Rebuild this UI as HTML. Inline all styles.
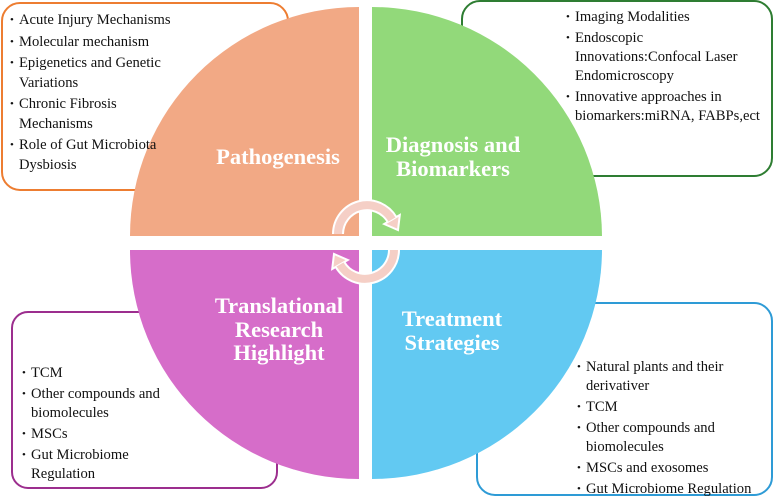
<!DOCTYPE html>
<html><head><meta charset="utf-8"><style>
body{margin:0;width:774px;height:498px;background:#fff;overflow:hidden;position:relative;font-family:"Liberation Serif",serif;}
svg{position:absolute;left:0;top:0}
.t{position:absolute;font-size:14.6px;line-height:19px;color:#111;}
.t div{position:relative;padding-left:9px;}
.t div:before{content:"•";position:absolute;left:0;font-size:11px}
.ttl{position:absolute;color:#fff;font-weight:bold;font-size:22.5px;line-height:23.5px;text-align:center;}
</style></head><body>
<svg width="774" height="498">
<rect x="2" y="3" width="286" height="187" rx="18" fill="#fff" stroke="#ED7D31" stroke-width="2"/>
<rect x="462" y="1" width="310" height="175" rx="18" fill="#fff" stroke="#2E7D32" stroke-width="2"/>
<rect x="12" y="312" width="265" height="176" rx="16" fill="#fff" stroke="#9C2E8E" stroke-width="2"/>
<rect x="477" y="303" width="295" height="192" rx="18" fill="#fff" stroke="#2E9BD6" stroke-width="2"/>
<path d="M359,236 L130,236 A229,229 0 0 1 359,7 Z" fill="#F2A985"/>
<path d="M372,236 L372,7 A230,230 0 0 1 602,236 Z" fill="#92D97A"/>
<path d="M359,250 L359,479 A229,229 0 0 1 130,250 Z" fill="#D66DC9"/>
<path d="M372,250 L602,250 A230,230 0 0 1 372,479 Z" fill="#62C9F2"/>
<g fill="none" stroke-linecap="butt">
<path d="M338,234 A29,29 0 0 1 392,219.5" stroke="#fff" stroke-width="12"/>
<path d="M394,250 A29,29 0 0 1 340,264.5" stroke="#fff" stroke-width="12"/>
</g>
<polygon points="399.8,215 384.2,224 398,230" fill="#F5CFC6" stroke="#fff" stroke-width="2"/>
<polygon points="332.2,269 347.8,260 334,254" fill="#F5CFC6" stroke="#fff" stroke-width="2"/>
<g fill="none">
<path d="M338,234 A29,29 0 0 1 392,219.5" stroke="#F5CFC6" stroke-width="8"/>
<path d="M394,250 A29,29 0 0 1 340,264.5" stroke="#F5CFC6" stroke-width="8"/>
</g>
</svg>
<div class="t" style="left:10px;top:11px;line-height:19.5px">
<div>Acute Injury Mechanisms</div>
<div style="margin-top:2px">Molecular mechanism</div>
<div style="margin-top:2px">Epigenetics and Genetic<br>Variations</div>
<div style="margin-top:2px">Chronic Fibrosis<br>Mechanisms</div>
<div style="margin-top:2px">Role of Gut Microbiota<br>Dysbiosis</div>
</div>
<div class="t" style="left:566px;top:8px">
<div>Imaging Modalities</div>
<div style="margin-top:2px">Endoscopic<br>Innovations:Confocal Laser<br>Endomicroscopy</div>
<div style="margin-top:2px">Innovative approaches in<br>biomarkers:miRNA, FABPs,ect</div>
</div>
<div class="t" style="left:22px;top:364px">
<div>TCM</div>
<div style="margin-top:2px">Other compounds and<br>biomolecules</div>
<div style="margin-top:2px">MSCs</div>
<div style="margin-top:2px">Gut Microbiome<br>Regulation</div>
</div>
<div class="t" style="left:577px;top:358px">
<div>Natural plants and their<br>derivativer</div>
<div style="margin-top:2px">TCM</div>
<div style="margin-top:2px">Other compounds and<br>biomolecules</div>
<div style="margin-top:2px">MSCs and exosomes</div>
<div style="margin-top:2px">Gut Microbiome Regulation</div>
</div>
<div class="ttl" style="left:178px;width:200px;top:145px">Pathogenesis</div>
<div class="ttl" style="left:353px;width:200px;top:133px">Diagnosis and<br>Biomarkers</div>
<div class="ttl" style="left:179px;width:200px;top:294px">Translational<br>Research<br>Highlight</div>
<div class="ttl" style="left:352px;width:200px;top:307px">Treatment<br>Strategies</div>
</body></html>
